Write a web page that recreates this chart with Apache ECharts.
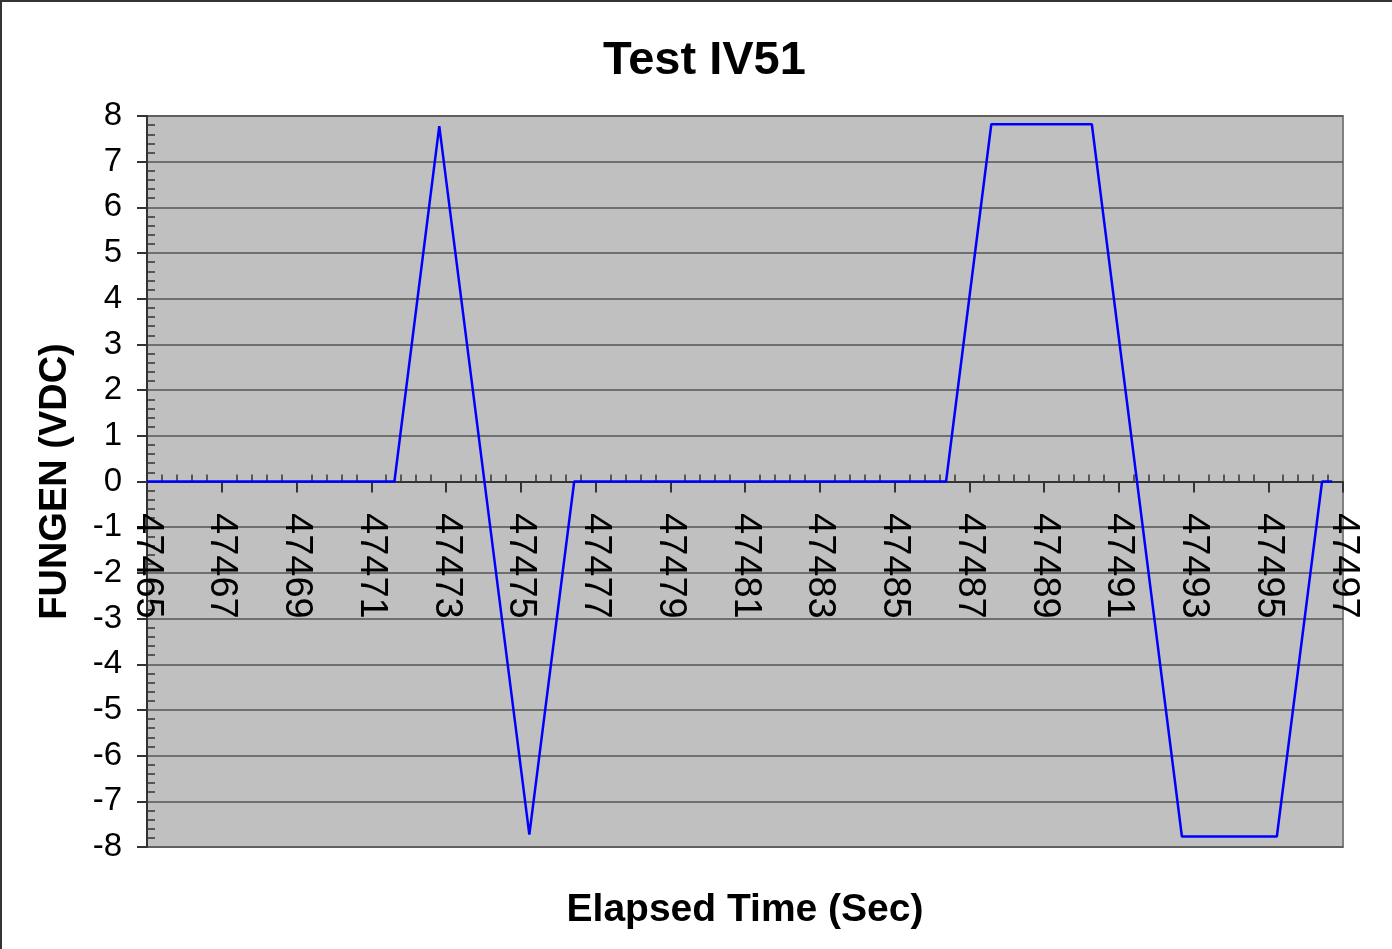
<!DOCTYPE html>
<html>
<head>
<meta charset="utf-8">
<script src="https://cdn.jsdelivr.net/npm/echarts@6/dist/echarts.min.js"></script>
<style>
html,body{margin:0;padding:0;background:#fff;}
#chart{width:1392px;height:949px;}
</style>
</head>
<body>
<div id="chart"></div>
<script>
// Data
const T0 = 47465; // first tick of the time axis
const timeSec = [47465.00, 47471.62, 47472.82, 47475.23, 47476.43, 47486.38, 47487.59, 47490.28, 47492.69, 47495.23, 47496.44, 47496.71];
const fungenVdc = [0, 0, 7.78, -7.73, 0, 0, 7.82, 7.82, -7.77, -7.77, 0, 0];
const titleText = 'Test IV51';
const xName = 'Elapsed Time (Sec)';
const yName = 'FUNGEN (VDC)';

const FONT = 'Liberation Sans, Arial, sans-serif';
const chart = echarts.init(document.getElementById('chart'), null, {renderer: 'canvas'});
chart.setOption({
  animation: false,
  backgroundColor: '#ffffff',
  title: {
    text: titleText,
    left: 598,
    top: 33,
    textStyle: {fontSize: 47, fontWeight: 'bold', color: '#000', fontFamily: FONT}
  },
  graphic: [{
    type: 'rect',
    shape: {x: 1, y: 1, width: 1500, height: 1500},
    style: {fill: 'none', stroke: '#333', lineWidth: 2},
    silent: true
  }],
  grid: {
    left: 147, right: 49, top: 116, bottom: 102,
    show: true, backgroundColor: '#C0C0C0', borderColor: '#808080', borderWidth: 2,
    containLabel: false, outerBoundsMode: 'none'
  },
  xAxis: {
    type: 'value', min: 0, max: 32, interval: 2,
    axisLine: {show: true, onZero: true, lineStyle: {color: '#333', width: 2}},
    axisTick: {show: true, length: 11, lineStyle: {color: '#333', width: 2}},
    minorTick: {show: true, splitNumber: 5, length: -7, lineStyle: {color: '#333', width: 1.5}},
    axisLabel: {
      rotate: -90, margin: -334, fontSize: 38, color: '#000', fontFamily: FONT,
      showMinLabel: true, showMaxLabel: true,
      formatter: v => String(v + T0)
    },
    splitLine: {show: false},
    minorSplitLine: {show: false},
    name: xName, nameLocation: 'middle', nameGap: 44,
    nameTextStyle: {fontSize: 39, fontWeight: 'bold', color: '#000', fontFamily: FONT}
  },
  yAxis: {
    type: 'value', min: -8, max: 8, interval: 1,
    axisLine: {show: true, lineStyle: {color: '#333', width: 2}},
    axisTick: {show: true, length: 10, lineStyle: {color: '#333', width: 2}},
    minorTick: {show: true, splitNumber: 5, length: -8, lineStyle: {color: '#333', width: 1.5}},
    axisLabel: {margin: 25, fontSize: 33, color: '#000', fontFamily: FONT},
    splitLine: {show: true, lineStyle: {color: '#555', width: 1.5}},
    minorSplitLine: {show: false},
    name: yName, nameLocation: 'middle', nameRotate: 90, nameGap: 72,
    nameTextStyle: {fontSize: 38, fontWeight: 'bold', color: '#000', fontFamily: FONT}
  },
  series: [{
    type: 'line',
    data: timeSec.map((t, i) => [t - T0, fungenVdc[i]]),
    showSymbol: false,
    symbol: 'none',
    lineStyle: {color: '#0000FF', width: 2.5},
    z: 5
  }]
});
</script>
</body>
</html>
